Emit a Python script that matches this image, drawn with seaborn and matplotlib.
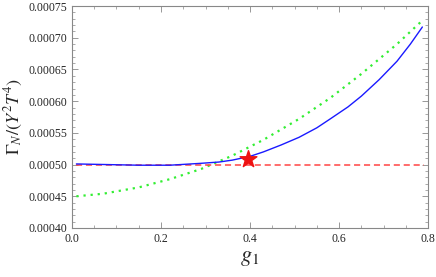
import numpy as np
import matplotlib
matplotlib.use("Agg")
import matplotlib.pyplot as plt
from matplotlib.ticker import MultipleLocator, FormatStrFormatter
import pandas as pd
import seaborn as sns

# values
g1_blue = [0.01, 0.08, 0.15, 0.22, 0.29, 0.33, 0.36, 0.40, 0.43, 0.47, 0.51, 0.55,
           0.58, 0.62, 0.65, 0.69, 0.73, 0.76, 0.787]
gamma_blue = [0.000501, 0.000500, 0.000499, 0.000499, 0.000502, 0.000504, 0.000507,
              0.000513, 0.000520, 0.000531, 0.000543, 0.000558, 0.000572, 0.000591,
              0.000608, 0.000634, 0.000663, 0.000690, 0.000717]

g1_green = [0.01, 0.07, 0.15, 0.22, 0.29, 0.36, 0.43, 0.51, 0.58, 0.65, 0.73, 0.785]
gamma_green = [0.000450, 0.000454, 0.000464, 0.000477, 0.000493, 0.000514,
               0.000539, 0.000572, 0.000605, 0.000643, 0.000690, 0.000726]

g1_red = [0.01, 0.79]
gamma_red = [0.000500, 0.000500]

star_g1 = [0.395]
star_gamma = [0.000509]

sns.set_style("ticks")
plt.rcParams['font.family'] = ['Liberation Serif', 'DejaVu Serif']
plt.rcParams['mathtext.fontset'] = 'stix'

fig, ax = plt.subplots(figsize=(4.36, 2.77), dpi=100)
fig.subplots_adjust(left=0.165, right=0.982, top=0.978, bottom=0.177)

sns.lineplot(x=g1_green, y=gamma_green, ax=ax, color='#33ee33', linestyle=(0, (1, 2.2)), linewidth=1.6)
sns.lineplot(x=g1_red, y=gamma_red, ax=ax, color='#ff4444', linestyle=(0, (4, 2.5)), linewidth=1.1)
sns.lineplot(x=g1_blue, y=gamma_blue, ax=ax, color='#1a1aff', linewidth=1.0)
sns.scatterplot(x=star_g1, y=star_gamma, ax=ax, marker='*', s=160, color='#ee1111', edgecolor='#ee1111', zorder=5)

ax.set_xlim(0, 0.8)
ax.set_ylim(0.0004, 0.00075)
ax.xaxis.set_major_locator(MultipleLocator(0.2))
ax.xaxis.set_minor_locator(MultipleLocator(0.05))
ax.yaxis.set_major_locator(MultipleLocator(0.00005))
ax.yaxis.set_minor_locator(MultipleLocator(0.00001))
ax.xaxis.set_major_formatter(FormatStrFormatter('%.1f'))
ax.yaxis.set_major_formatter(FormatStrFormatter('%.5f'))
ax.tick_params(which='both', direction='in', top=True, right=True, color='#888888', labelsize=8.5)
ax.tick_params(which='major', length=4, width=0.6)
ax.tick_params(which='minor', length=2, width=0.5)
for sp in ax.spines.values():
    sp.set_color('#888888')
    sp.set_linewidth(0.8)

ax.set_xlabel(r'$g_\mathit{1}$', fontsize=16, labelpad=3)
ax.set_ylabel(r'$\Gamma_N/(Y^2T^4)$', fontsize=13)
ax.yaxis.set_label_coords(-0.132, 0.5)

fig.savefig('out.png', dpi=100)
